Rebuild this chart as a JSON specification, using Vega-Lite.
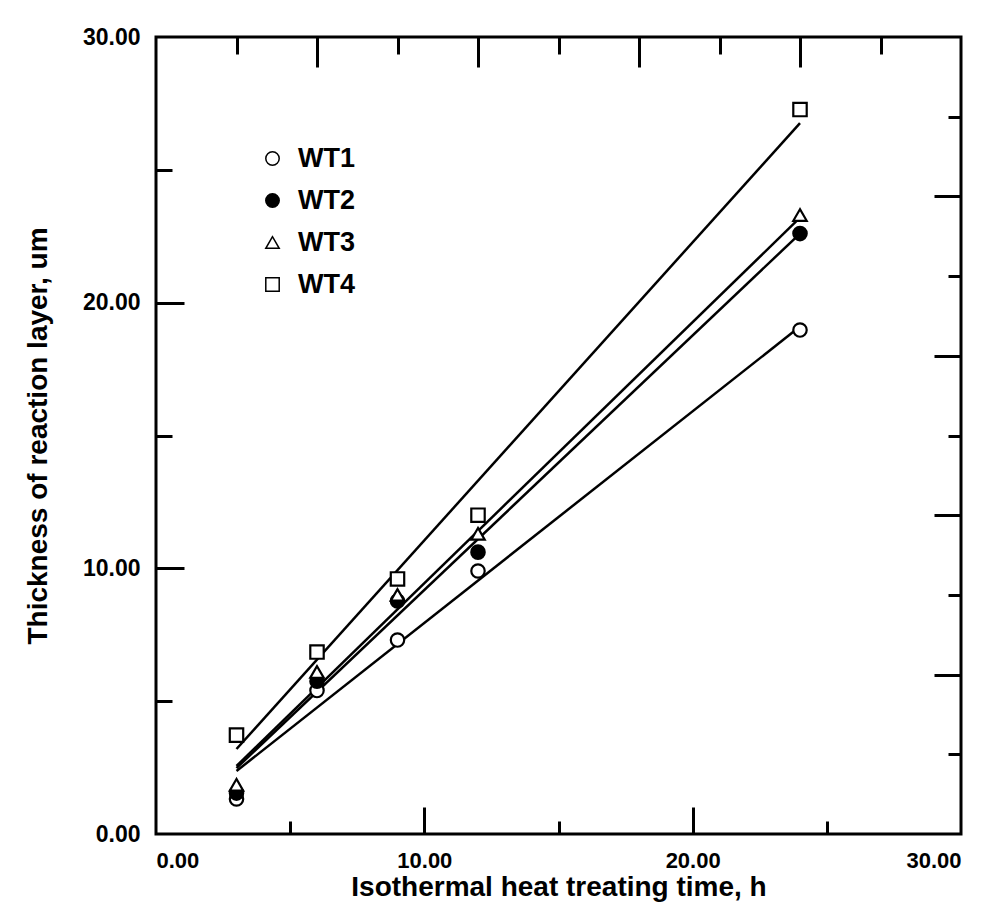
{
  "$schema": "https://vega.github.io/schema/vega-lite/v6.json",
  "width": 805,
  "height": 797,
  "autosize": "none",
  "padding": {"left": 156, "top": 37, "right": 46, "bottom": 69},
  "background": "white",
  "config": {
    "view": {"stroke": "black", "strokeWidth": 3},
    "font": "Liberation Sans",
    "axis": {"grid": false, "domain": false, "tickColor": "black", "tickWidth": 3, "labelColor": "black", "titleColor": "black", "labelFont": "Liberation Sans", "titleFont": "Liberation Sans", "labelFontWeight": "bold", "titleFontWeight": "bold"},
    "legend": {"orient": "none", "legendX": 103, "legendY": 108, "title": null, "labelFontSize": 27, "labelFont": "Liberation Sans", "labelFontWeight": "bold", "labelColor": "black", "labelOffset": 12, "rowPadding": 14, "padding": 0}
  },
  "datasets": {
    "points": [
      {"series": "WT1", "time": 3, "thickness": 1.32},
      {"series": "WT1", "time": 6, "thickness": 5.4},
      {"series": "WT1", "time": 9, "thickness": 7.3},
      {"series": "WT1", "time": 12, "thickness": 9.9},
      {"series": "WT1", "time": 24, "thickness": 18.97},
      {"series": "WT2", "time": 3, "thickness": 1.54},
      {"series": "WT2", "time": 6, "thickness": 5.75},
      {"series": "WT2", "time": 9, "thickness": 8.77},
      {"series": "WT2", "time": 12, "thickness": 10.61},
      {"series": "WT2", "time": 24, "thickness": 22.6},
      {"series": "WT3", "time": 3, "thickness": 1.85},
      {"series": "WT3", "time": 6, "thickness": 6.1},
      {"series": "WT3", "time": 9, "thickness": 9.0},
      {"series": "WT3", "time": 12, "thickness": 11.3},
      {"series": "WT3", "time": 24, "thickness": 23.3},
      {"series": "WT4", "time": 3, "thickness": 3.72},
      {"series": "WT4", "time": 6, "thickness": 6.85},
      {"series": "WT4", "time": 9, "thickness": 9.6},
      {"series": "WT4", "time": 12, "thickness": 12.0},
      {"series": "WT4", "time": 24, "thickness": 27.27}
    ],
    "fits": [
      {"series": "WT1", "time": 3, "thickness": 2.37},
      {"series": "WT1", "time": 24, "thickness": 19.1},
      {"series": "WT2", "time": 3, "thickness": 2.48},
      {"series": "WT2", "time": 24, "thickness": 22.6},
      {"series": "WT3", "time": 3, "thickness": 2.56},
      {"series": "WT3", "time": 24, "thickness": 23.2},
      {"series": "WT4", "time": 3, "thickness": 3.2},
      {"series": "WT4", "time": 24, "thickness": 26.76}
    ]
  },
  "resolve": {"axis": {"x": "independent", "y": "independent"}},
  "layer": [
    {
      "data": {"name": "fits"},
      "mark": {"type": "line", "color": "black", "strokeWidth": 2.5},
      "encoding": {
        "x": {"field": "time", "type": "quantitative", "scale": {"domain": [0, 30], "nice": false},
          "axis": {"orient": "bottom", "values": [0, 10, 20, 30], "format": ".2f", "ticks": false, "labelFontSize": 22, "labelPadding": 16, "title": "Isothermal heat treating time, h", "titleFontSize": 28, "titlePadding": 2}},
        "y": {"field": "thickness", "type": "quantitative", "scale": {"domain": [0, 30], "nice": false},
          "axis": {"orient": "left", "values": [0, 10, 20, 30], "format": ".2f", "ticks": false, "labelFontSize": 23, "labelPadding": 16, "title": "Thickness of reaction layer, um", "titleFontSize": 28, "titlePadding": 30}},
        "detail": {"field": "series"}
      }
    },
    {
      "data": {"name": "points"},
      "mark": {"type": "point", "filled": true, "stroke": "black", "strokeWidth": 2.2, "opacity": 1},
      "encoding": {
        "x": {"field": "time", "type": "quantitative",
          "axis": {"orient": "bottom", "values": [10, 20], "labels": false, "title": null, "tickSize": -27}},
        "y": {"field": "thickness", "type": "quantitative",
          "axis": {"orient": "left", "values": [10, 20], "labels": false, "title": null, "tickSize": -28}},
        "shape": {"field": "series", "type": "nominal", "scale": {"domain": ["WT1", "WT2", "WT3", "WT4"], "range": ["circle", "circle", "triangle-up", "square"]},
          "legend": {"encode": {"symbols": {"update": {"stroke": {"value": "black"}, "strokeWidth": {"value": 2.2}, "opacity": {"value": 1}}}}}},
        "fill": {"field": "series", "type": "nominal", "scale": {"domain": ["WT1", "WT2", "WT3", "WT4"], "range": ["white", "black", "white", "white"]},
          "legend": {"encode": {"symbols": {"update": {"stroke": {"value": "black"}, "strokeWidth": {"value": 2.2}, "opacity": {"value": 1}}}}}},
        "size": {"field": "series", "type": "nominal", "scale": {"domain": ["WT1", "WT2", "WT3", "WT4"], "range": [180, 180, 70, 270]},
          "legend": {"encode": {"symbols": {"update": {"stroke": {"value": "black"}, "strokeWidth": {"value": 2.2}, "opacity": {"value": 1}}}}}}
      }
    },
    {
      "data": {"name": "fits"},
      "mark": {"type": "point", "opacity": 0},
      "encoding": {
        "x": {"field": "time", "type": "quantitative",
          "axis": {"orient": "bottom", "values": [5, 15, 25], "labels": false, "title": null, "tickSize": -13}},
        "y": {"field": "thickness", "type": "quantitative",
          "axis": {"orient": "left", "values": [5, 15, 25], "labels": false, "title": null, "tickSize": -16}}
      }
    },
    {
      "data": {"name": "fits"},
      "mark": {"type": "point", "opacity": 0},
      "encoding": {
        "x": {"field": "time", "type": "quantitative",
          "axis": {"orient": "top", "values": [6, 12, 18, 24], "labels": false, "title": null, "tickSize": -30}},
        "y": {"field": "thickness", "type": "quantitative",
          "axis": {"orient": "right", "values": [6, 12, 18, 24], "labels": false, "title": null, "tickSize": -27}}
      }
    },
    {
      "data": {"name": "fits"},
      "mark": {"type": "point", "opacity": 0},
      "encoding": {
        "x": {"field": "time", "type": "quantitative",
          "axis": {"orient": "top", "values": [3, 9, 15, 21, 27], "labels": false, "title": null, "tickSize": -17}},
        "y": {"field": "thickness", "type": "quantitative",
          "axis": {"orient": "right", "values": [3, 9, 15, 21, 27], "labels": false, "title": null, "tickSize": -13}}
      }
    }
  ]
}
